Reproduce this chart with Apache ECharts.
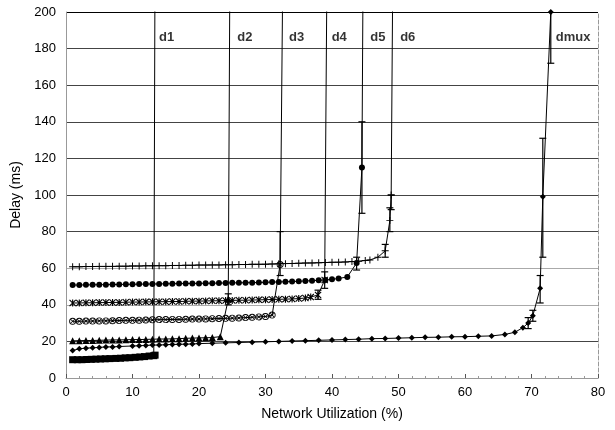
<!DOCTYPE html>
<html><head><meta charset="utf-8">
<script src="https://cdn.jsdelivr.net/npm/echarts@6/dist/echarts.min.js"></script>
<style>html,body{margin:0;padding:0;background:#fff}#c{width:615px;height:430px}</style>
</head><body><div id="c"></div>
<script>
// ---- data ----
const xTicks = [0,10,20,30,40,50,60,70,80];
const yTicks = [0,20,40,60,80,100,120,140,160,180,200];

const d1 = [[1,10],[1.7,10],[2.4,10],[3.1,10.1],[3.8,10.2],[4.5,10.3],[5.2,10.4],[5.9,10.5],[6.6,10.6],[7.5,10.7],[8.2,10.8],[8.9,11],[9.6,11.1],[10.4,11.3],[11.1,11.5],[11.8,11.7],[12.5,12],[13.2,12.2],[13.4,12.5],[13.45,300]];
const d2 = [[1,20.3],[2,20.4],[3,20.5],[4,20.5],[5,20.6],[6,20.7],[7,20.8],[8,20.8],[9,20.9],[10,21],[11,21],[12,21.1],[13,21.2],[14,21.3],[15,21.3],[16,21.4],[17,21.5],[18,21.7],[19,21.8],[20,21.9],[21,22],[22,22.1],[23.2,22.6],[24.4,43],[24.75,300]];
const d3 = [[1,31],[2,31],[3,31.1],[4,31.1],[5,31.2],[6,31.2],[7,31.3],[8,31.4],[9,31.5],[10,31.5],[11,31.6],[12,31.7],[13,31.8],[14,31.9],[15,31.9],[16,32],[17,32],[18,32.1],[19,32.2],[20,32.2],[21,32.3],[22,32.4],[23,32.5],[24,32.6],[25,32.7],[26,32.8],[27,33],[28,33.2],[29,33.4],[30,33.6],[31,34.4],[32.2,62],[32.8,300]];
const d4 = [[1,41],[2,41],[3,41.1],[4,41.1],[5,41.2],[6,41.2],[7,41.3],[8,41.3],[9,41.4],[10,41.5],[11,41.5],[12,41.6],[13,41.6],[14,41.7],[15,41.7],[16,41.8],[17,41.8],[18,41.9],[19,42],[20,42],[21,42.1],[22,42.2],[23,42.2],[24,42.3],[25,42.4],[26,42.5],[27,42.5],[28,42.6],[29,42.7],[30,42.8],[31,42.9],[32,43],[33,43.1],[34,43.2],[35,43.4],[36,43.7],[36.8,44.2],[37.9,45.4],[38.9,53.5],[39.4,300]];
const d5 = [[1,50.8],[2,50.8],[3,50.9],[4,50.9],[5,51],[6,51],[7,51.1],[8,51.1],[9,51.2],[10,51.2],[11,51.3],[12,51.3],[13,51.4],[14,51.4],[15,51.5],[16,51.5],[17,51.6],[18,51.6],[19,51.7],[20,51.7],[21,51.8],[22,51.8],[23,51.9],[24,51.9],[25,52],[26,52],[27,52.1],[28,52.1],[29,52.2],[30,52.3],[31,52.4],[32,52.5],[33,52.6],[34,52.7],[35,52.9],[36,53],[37,53.2],[38,53.4],[39,53.6],[40,53.9],[41,54.4],[42.3,55.2],[43.7,62.8],[44.5,115],[44.8,300]];
const d6 = [[1,60.8],[2,60.8],[3,60.9],[4,60.9],[5,61],[6,61],[7,61],[8,61.1],[9,61.1],[10,61.2],[11,61.2],[12,61.3],[13,61.3],[14,61.4],[15,61.4],[16,61.5],[17,61.5],[18,61.6],[19,61.6],[20,61.7],[21,61.7],[22,61.8],[23,61.8],[24,61.9],[25,61.9],[26,62],[27,62],[28,62.1],[29,62.1],[30,62.2],[31,62.3],[32,62.4],[33,62.5],[34,62.6],[35,62.7],[36,62.8],[37,62.9],[38,63],[39,63.1],[40,63.2],[41,63.3],[42,63.4],[43,63.6],[44,63.8],[45,64.2],[45.7,64.5],[46.9,66],[48,69.5],[48.7,86],[48.9,100],[49.3,300]];
const dmux = [[1,15],[2,16],[3,16.3],[4,16.5],[5,16.7],[6,17],[7,17],[8,17.2],[10,17.5],[11,17.6],[12,17.8],[13,18],[14,18],[15,18.2],[16,18.3],[17,18.4],[18,18.5],[19,18.6],[20,18.8],[22,19],[24,19.2],[26,19.4],[28,19.6],[30,19.8],[32,20],[34,20.2],[36,20.4],[38,20.6],[40,20.8],[42,21],[44,21.2],[46,21.5],[48,21.6],[50,21.8],[52,22],[54,22.2],[56,22.3],[58,22.5],[60,22.6],[62,22.8],[64,23],[66,23.8],[67.5,25],[68.7,27.5],[69.5,30],[70.2,34],[71.3,49],[71.7,99],[72.9,200],[73.1,300]];

// error bars: [x, low, high]
const errorBars = [[24.4,40,46],[32.2,56,80],[37.9,43,48],[38.9,49,58],[43.7,59,66],[44.5,90,140],[48,66,73],[48.7,80,93],[48.9,92,100],[69.5,27,33],[70.2,31,37],[71.3,41,56],[71.7,66,131],[72.9,172,200]];

// curve labels
const labelNames = ['d1','d2','d3','d4','d5','d6','dmux'];
const labelX = [13.85,25.6,33.4,39.8,45.6,50.1,73.5];
const labelY = [186,186,186,186,186,186,186];

// ---- chart ----
const FONT = 'Liberation Sans, Arial, sans-serif';
const sym = {
  plus: 'path://M4.3,0h1.4v4.3h4.3v1.4h-4.3v4.3h-1.4v-4.3h-4.3v-1.4h4.3z',
  star: 'path://M4.2,0h1.6v10h-1.6z M1.1,0L5,3.9L8.9,0L10,1.1L6.1,5L10,8.9L8.9,10L5,6.1L1.1,10L0,8.9L3.9,5L0,1.1z',
  xcircle: 'path://M5,0A5,5,0,1,1,4.99,0z M5,1.3A3.7,3.7,0,1,0,5.01,1.3z M2,2.8L2.8,2L8,7.2L7.2,8z M7.2,2L8,2.8L2.8,8L2,7.2z'
};
function lineSeries(name, data, symbol, size) {
  return {
    name, type: 'line', data, symbol, symbolSize: size, showSymbol: true,
    lineStyle: { color: '#000', width: 1 },
    itemStyle: { color: '#000', borderWidth: 0 },
    clip: true, z: 3
  };
}
const labelData = labelNames.map((n, i) => ({ name: n, value: [labelX[i], labelY[i]] }));
const chart = echarts.init(document.getElementById('c'), null, { renderer: 'canvas' });
chart.setOption({
  animation: false,
  backgroundColor: '#fff',
  textStyle: { fontFamily: FONT },
  grid: { left: 66, right: 17, top: 12, bottom: 52 },
  xAxis: {
    type: 'value', min: xTicks[0], max: xTicks[xTicks.length-1], interval: 10,
    name: 'Network Utilization (%)', nameLocation: 'middle', nameGap: 29,
    nameTextStyle: { fontSize: 14, color: '#000', fontFamily: FONT },
    axisLine: { lineStyle: { color: '#999', width: 1 } },
    axisTick: { inside: true, length: 4, lineStyle: { color: '#555' } },
    minorTick: { show: true, splitNumber: 5, length: 2, lineStyle: { color: '#999' } },
    axisLabel: { color: '#000', fontSize: 13, margin: 8, fontFamily: FONT },
    splitLine: { show: false }
  },
  yAxis: [{
    type: 'value', min: yTicks[0], max: yTicks[yTicks.length-1], interval: 20,
    name: 'Delay (ms)', nameLocation: 'middle', nameGap: 35, nameRotate: 90,
    nameTextStyle: { fontSize: 14, color: '#000', fontFamily: FONT },
    axisLine: { show: true, lineStyle: { color: '#999', width: 1 } },
    axisTick: { show: false },
    axisLabel: { color: '#000', fontSize: 13, margin: 10, fontFamily: FONT },
    splitLine: { show: true, lineStyle: { color: ['#999','#444','#aaa','#aaa','#444','#444','#444','#444','#444','#444','#000'], width: 1 } }
  }, {
    type: 'value', min: 0, max: 200, interval: 20, position: 'right',
    axisLine: { show: true, lineStyle: { color: '#999', type: 'dashed', width: 1 } },
    axisTick: { show: false }, axisLabel: { show: false }, splitLine: { show: false }
  }],
  series: [
    lineSeries('d1', d1, 'rect', 7),
    lineSeries('d2', d2, 'triangle', 7),
    lineSeries('d3', d3, sym.xcircle, 7),
    lineSeries('d4', d4, sym.star, 7),
    lineSeries('d5', d5, 'circle', 6),
    lineSeries('d6', d6, sym.plus, 7),
    lineSeries('dmux', dmux, 'diamond', 6),
    {
      type: 'custom', data: errorBars, encode: { x: 0, y: [1, 2] }, clip: true, z: 4,
      renderItem: function (params, api) {
        const x = api.value(0), lo = api.value(1), hi = api.value(2);
        const a = api.coord([x, hi]), b = api.coord([x, lo]);
        const w = 3.5, st = { stroke: '#000', lineWidth: 1.2 };
        return { type: 'group', children: [
          { type: 'line', shape: { x1: a[0], y1: a[1], x2: b[0], y2: b[1] }, style: st },
          { type: 'line', shape: { x1: a[0]-w, y1: a[1], x2: a[0]+w, y2: a[1] }, style: st },
          { type: 'line', shape: { x1: b[0]-w, y1: b[1], x2: b[0]+w, y2: b[1] }, style: st }
        ]};
      }
    },
    {
      type: 'scatter', data: labelData, symbolSize: 2, itemStyle: { color: 'rgba(0,0,0,0)' }, z: 5,
      label: { show: true, position: 'right', distance: 0, formatter: p => p.name,
        color: '#000', fontWeight: 'bold', fontSize: 13, fontFamily: FONT }
    }
  ]
});
</script></body></html>
